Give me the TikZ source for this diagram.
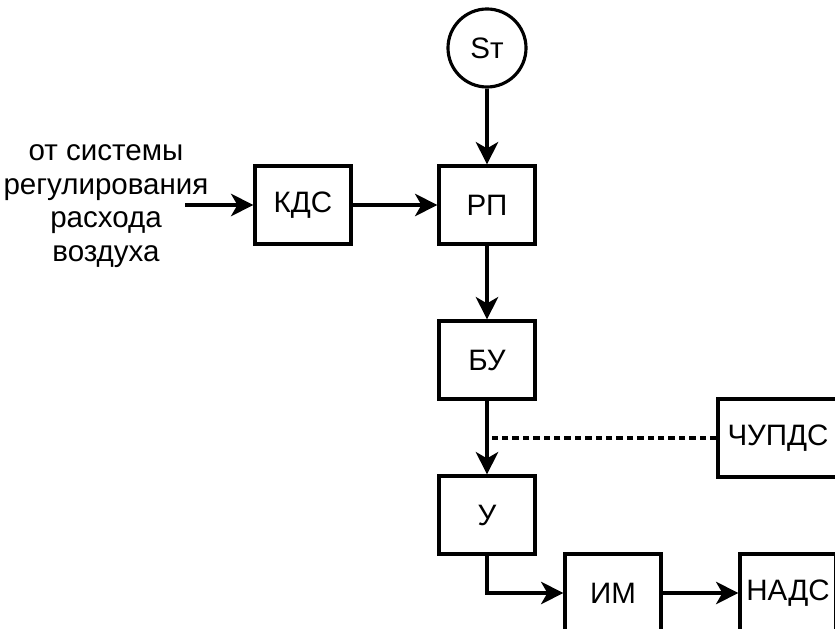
\documentclass[tikz,border=0pt]{standalone}
\usepackage{fontspec}
\setmainfont{Liberation Sans}
\usetikzlibrary{arrows.meta,positioning}

\begin{document}
\begin{tikzpicture}[font=\fontsize{21}{24}\selectfont,>={Stealth[length=0.56cm,width=0.56cm,inset=0.16cm]},x=0.025cm,y=-0.025cm,line width=2.25pt,
  blk/.style={draw,fill=white,minimum width=2.4cm,minimum height=1.95cm,inner sep=1pt},
  sig/.style={draw,circle,minimum size=1.95cm,inner sep=0pt},
  lnk/.style={dash pattern=on 0.16cm off 0.1cm}]
  \clip (0,0) rectangle (835,629);
  % source and input
  \node[sig] (st) at (487,48) {Sт};
  \node[align=center] (src) at (106,206) {от системы\\регулирования\\расхода\\воздуха};
  \coordinate (inp) at (185,205);
  % blocks
  \node[blk] (kds) at (303,205) {КДС};
  \node[blk] (rp) at (487,205) {РП};
  \node[blk] (bu) at (487,360) {БУ};
  \node[blk,minimum width=3cm] (chupds) at (778,438) {ЧУПДС};
  \node[blk] (u) at (487,515) {У};
  \node[blk] (im) at (613,593) {ИМ};
  \node[blk] (nads) at (788,593) {НАДС};
  % connections
  \draw[->] (st) -- (rp);
  \draw[->] (inp) -- (kds);
  \draw[->] (kds) -- (rp);
  \draw[->] (rp) -- (bu);
  \draw[->] (bu) -- (u);
  \draw[lnk] (chupds.west) -- (chupds.west -| bu.south);
  \draw[->] (u.south) |- (im.west);
  \draw[->] (im) -- (nads);
\end{tikzpicture}
\end{document}
